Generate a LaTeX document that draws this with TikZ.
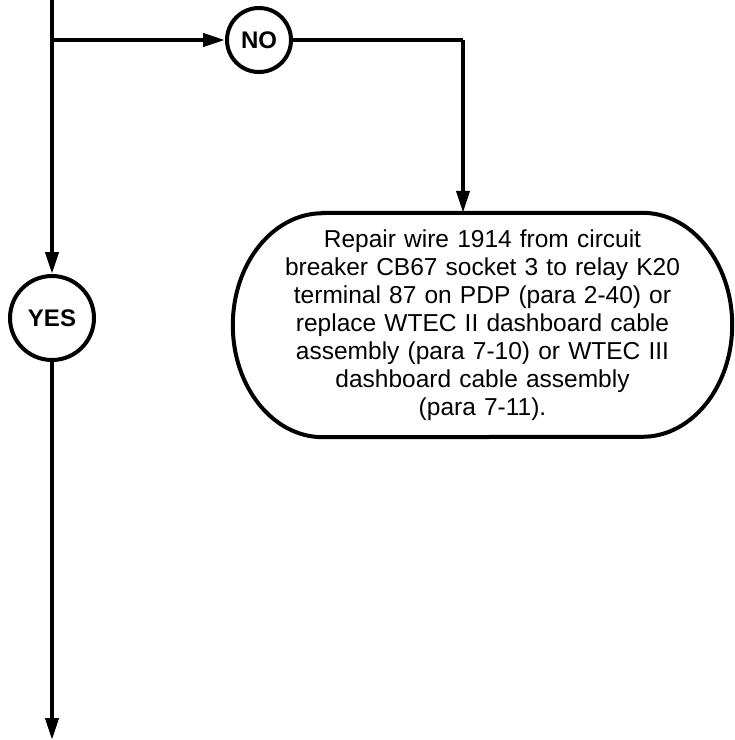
\documentclass[tikz,border=0pt]{standalone}
\usepackage{fontspec}
\setmainfont{Liberation Sans}
\usepackage{tikz}
\usetikzlibrary{arrows.meta,positioning,calc}

\tikzset{
	flow/.style={line width=4pt, -{Triangle[length=22pt,width=13pt]}},
	line/.style={line width=4pt},
	answer/.style={draw, circle, line width=4pt, fill=white, inner sep=0pt, font=\fontsize{24}{28}\selectfont\bfseries},
	action/.style={text width=470pt, align=center, minimum width=499pt, minimum height=224pt, inner sep=0pt, font=\fontsize{24.5}{28}\selectfont}
}

\begin{document}
\begin{tikzpicture}[x=1pt, y=-1pt]
		\useasboundingbox (0,0) rectangle (735,740);

		\coordinate (top) at (52,0);
		\coordinate (split) at (52,40);
		\coordinate (corner) at (463,40);
		\coordinate (bottom) at (52,740);

		\node[answer, minimum size=64pt] (no) at (259,40) {NO};
		\node[answer, minimum size=84pt] (yes) at (52,318) {YES};

		\node[action] (repair) at (482.5,325) {
			Repair wire 1914 from circuit\\
			breaker CB67 socket 3 to relay K20\\
			terminal 87 on PDP (para 2-40) or\\
			replace WTEC II dashboard cable\\
			assembly (para 7-10) or WTEC III\\
			dashboard cable assembly\\
			(para 7-11).
		};
		% stadium outline around the action text
		\draw[line] ($(repair.north west)+(90,0)$) -- ($(repair.north east)+(-90,0)$)
			arc[start angle=90, end angle=-90, x radius=90pt, y radius=112pt]
			-- ($(repair.south west)+(90,0)$)
			arc[start angle=270, end angle=90, x radius=90pt, y radius=112pt] -- cycle;

		\draw[line] (top) -- (split);
		\draw[flow] (split) -- (no);
		\draw[line] (no) -- (corner);
		\draw[flow] (corner) -- (corner |- repair.north);
		\draw[flow] (split) -- (yes);
		\draw[flow] (yes) -- (bottom);
	\end{tikzpicture}
\end{document}
